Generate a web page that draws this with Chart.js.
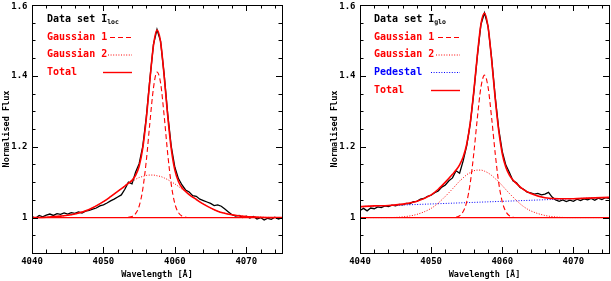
<!DOCTYPE html>
<html><head><meta charset="utf-8">
<script src="https://cdn.jsdelivr.net/npm/chart.js@4/dist/chart.umd.min.js"></script>
<style>
html,body{margin:0;padding:0;background:#fff;}
#wrap{position:relative;width:611px;height:281px;overflow:hidden;}
canvas{position:absolute;top:0;}
</style></head><body>
<div id="wrap"><canvas id="c1" width="305" height="281" style="left:0"></canvas><canvas id="c2" width="306" height="281" style="left:305px"></canvas></div>
<script>
// ---- axis ticks ----
const xMajor = [4040, 4050, 4060, 4070];
const xLabels = ['4040', '4050', '4060', '4070'];
const yMajor = [1, 1.2, 1.4, 1.6];
const yLabels = ['1', '1.2', '1.4', '1.6'];
const xTitle = 'Wavelength [Å]';
const yTitle = 'Normalised Flux';

// ---- shared model wavelength grid ----
const modelWl = [4040,4042,4044,4046,4048,4050,4051,4052,4053,4053.5,4054,4054.5,4055,4055.5,4056,4056.5,4057,4057.5,4058,4058.5,4059,4059.5,4060,4060.5,4061,4061.5,4062,4063,4064,4066,4068,4070,4072,4075];
const contWl = [4040, 4075];
const contFlux = [1, 1];

// ---- left panel (I_loc) ----
const locGauss1 = [1,1,1,1,1,1,1,1,1,1.001,1.003,1.011,1.032,1.079,1.160,1.267,1.365,1.411,1.380,1.288,1.180,1.093,1.039,1.014,1.004,1.001,1,1,1,1,1,1,1,1];
const locGauss2 = [1.000,1.001,1.004,1.010,1.023,1.045,1.059,1.074,1.089,1.096,1.102,1.108,1.113,1.116,1.119,1.120,1.120,1.118,1.116,1.112,1.107,1.101,1.095,1.088,1.080,1.073,1.065,1.051,1.038,1.018,1.008,1.003,1.001,1.000];
const locTotal = [1.000,1.001,1.004,1.010,1.023,1.045,1.059,1.074,1.089,1.097,1.105,1.119,1.145,1.195,1.279,1.387,1.485,1.529,1.496,1.400,1.287,1.194,1.134,1.102,1.084,1.074,1.065,1.051,1.038,1.018,1.008,1.003,1.001,1.000];

const dataWl = [4040,4040.5,4041,4041.5,4042,4042.5,4043,4043.5,4044,4044.5,4045,4045.5,4046,4046.5,4047,4047.5,4048,4048.5,4049,4049.5,4050,4050.5,4051,4051.5,4052,4052.5,4053,4053.5,4054,4054.5,4055,4055.5,4056,4056.5,4057,4057.5,4058,4058.5,4059,4059.5,4060,4060.5,4061,4061.5,4062,4062.5,4063,4063.5,4064,4064.5,4065,4065.5,4066,4066.5,4067,4067.5,4068,4068.5,4069,4069.5,4070,4070.5,4071,4071.5,4072,4072.5,4073,4073.5,4074,4074.5,4075];
const locData = [1.003,0.998,1.006,1.002,1.007,1.010,1.006,1.011,1.009,1.013,1.010,1.014,1.012,1.016,1.013,1.018,1.020,1.024,1.027,1.033,1.036,1.041,1.047,1.052,1.058,1.064,1.080,1.100,1.095,1.128,1.152,1.200,1.283,1.390,1.488,1.531,1.498,1.404,1.292,1.200,1.142,1.110,1.092,1.078,1.072,1.062,1.060,1.052,1.048,1.044,1.040,1.034,1.036,1.032,1.024,1.016,1.008,1.004,1.006,1.000,1.004,0.999,1.003,0.996,1.000,0.993,0.998,0.995,1.001,0.996,0.999];

// ---- right panel (I_glo) ----
const gloGauss1 = [1,1,1,1,1,1,1,1,1,1.001,1.005,1.017,1.044,1.098,1.182,1.282,1.368,1.402,1.368,1.282,1.182,1.098,1.044,1.017,1.005,1.001,1,1,1,1,1,1,1,1];
const gloGauss2 = [1.000,1.000,1.000,1.002,1.009,1.026,1.041,1.060,1.081,1.092,1.103,1.112,1.121,1.127,1.132,1.134,1.134,1.131,1.126,1.119,1.110,1.101,1.090,1.079,1.068,1.058,1.048,1.031,1.019,1.006,1.001,1.000,1.000,1.000];
const gloPedWl = [4040, 4075];
const gloPedestal = [1.031, 1.057];
const gloTotal = [1.031,1.033,1.034,1.038,1.046,1.064,1.080,1.100,1.122,1.134,1.149,1.171,1.207,1.268,1.357,1.459,1.546,1.577,1.538,1.446,1.337,1.245,1.180,1.142,1.120,1.106,1.096,1.079,1.068,1.056,1.053,1.053,1.055,1.057];
const gloData = [1.020,1.026,1.019,1.027,1.025,1.030,1.028,1.033,1.031,1.035,1.033,1.037,1.036,1.040,1.039,1.045,1.046,1.052,1.054,1.060,1.063,1.070,1.075,1.086,1.092,1.104,1.112,1.132,1.125,1.160,1.203,1.265,1.354,1.457,1.545,1.578,1.540,1.450,1.342,1.250,1.186,1.148,1.127,1.104,1.098,1.085,1.080,1.072,1.070,1.066,1.068,1.064,1.066,1.071,1.058,1.050,1.046,1.050,1.045,1.049,1.046,1.052,1.048,1.053,1.050,1.054,1.049,1.055,1.051,1.056,1.054];

const RED = 'rgb(255,0,0)', BLUE = 'rgb(0,0,255)', BLACK = 'rgb(0,0,0)';
const FONT = '"DejaVu Sans Mono", monospace';
const pts = (xs, ys) => xs.map((x, i) => ({x: x, y: ys[i]}));

const framePlugin = {
  id: 'frame',
  afterDraw(chart) {
    const o = chart.config._config.frameOpts;
    const ctx = chart.ctx, a = chart.chartArea;
    const xs = chart.scales.x, ys = chart.scales.y;
    ctx.save();
    ctx.setLineDash([]);
    ctx.strokeStyle = BLACK; ctx.lineWidth = 1;
    ctx.strokeRect(Math.round(a.left) + 0.5, Math.round(a.top) + 0.5, Math.round(a.right - a.left), Math.round(a.bottom - a.top));
    ctx.beginPath();
    for (let v = xs.min; v <= xs.max + 1e-9; v += 2) {
      const px = Math.round(xs.getPixelForValue(v)) + 0.5;
      const L = xMajor.includes(v) ? 6 : 3.5;
      ctx.moveTo(px, a.bottom); ctx.lineTo(px, a.bottom - L);
      ctx.moveTo(px, a.top); ctx.lineTo(px, a.top + L);
    }
    for (let k = 0; k <= 14; k++) {
      const v = Math.round((0.9 + k * 0.05) * 100) / 100;
      const py = Math.round(ys.getPixelForValue(v)) + 0.5;
      const L = yMajor.includes(v) ? 6 : 3.5;
      ctx.moveTo(a.left, py); ctx.lineTo(a.left + L, py);
      ctx.moveTo(a.right, py); ctx.lineTo(a.right - L, py);
    }
    ctx.stroke();
    ctx.fillStyle = BLACK;
    ctx.font = 'bold 9px ' + FONT;
    ctx.textAlign = 'center'; ctx.textBaseline = 'middle';
    xMajor.forEach((v, i) => ctx.fillText(xLabels[i], xs.getPixelForValue(v), a.bottom + 8.5));
    ctx.textAlign = 'right';
    yMajor.forEach((v, i) => ctx.fillText(yLabels[i], a.left - 4.5, ys.getPixelForValue(v) + (i === 3 ? 2 : 0)));
    ctx.font = 'bold 8.5px ' + FONT;
    ctx.textAlign = 'center';
    ctx.fillText(xTitle, (a.left + a.right) / 2, a.bottom + 22);
    ctx.save();
    ctx.translate(a.left - 25, (a.top + a.bottom) / 2);
    ctx.rotate(-Math.PI / 2);
    ctx.fillText(yTitle, 0, 0);
    ctx.restore();
    ctx.textAlign = 'left';
    o.items.forEach(it => {
      ctx.font = 'bold 10px ' + FONT;
      ctx.fillStyle = it.color;
      ctx.fillText(it.text, o.x, it.y);
      if (it.sub) {
        const w = ctx.measureText(it.text).width;
        ctx.font = 'bold 6.5px ' + FONT;
        ctx.fillText(it.sub, o.x + w, it.y + 3);
      }
      if (it.line) {
        ctx.beginPath();
        ctx.strokeStyle = it.color;
        ctx.lineWidth = it.lw || 1;
        ctx.setLineDash(it.dash || []);
        ctx.moveTo(it.line[0], it.y + 0.5); ctx.lineTo(it.line[1], it.y + 0.5);
        ctx.stroke();
        ctx.setLineDash([]);
      }
    });
    ctx.restore();
  }
};

function makeChart(id, datasets, padLeft, padRight, legend) {
  return new Chart(document.getElementById(id), {
    type: 'line',
    data: { datasets: datasets },
    frameOpts: legend,
    options: {
      responsive: false, animation: false, devicePixelRatio: 1,
      layout: { padding: { left: padLeft, right: padRight, top: 5, bottom: 28 } },
      plugins: { legend: { display: false }, tooltip: { enabled: false } },
      elements: { point: { radius: 0 } },
      scales: {
        x: { type: 'linear', min: 4040, max: 4075, display: false },
        y: { type: 'linear', min: 0.9, max: 1.6, display: false }
      }
    },
    plugins: [framePlugin]
  });
}

const ds = (xs, ys, color, width, dash, order, mono) => ({
  data: pts(xs, ys), borderColor: color, backgroundColor: color, borderWidth: width, borderDash: dash || [],
  order: order, cubicInterpolationMode: mono ? 'monotone' : 'default', tension: 0, fill: false
});

makeChart('c1', [
  ds(modelWl, locTotal, RED, 1.6, null, 1, true),
  ds(dataWl, locData, BLACK, 1.3, null, 5, false),
  ds(contWl, contFlux, RED, 1.2, null, 4, false),
  ds(modelWl, locGauss1, RED, 1.1, [5, 3], 2, true),
  ds(modelWl, locGauss2, RED, 1, [1, 1.6], 3, true)
], 32, 23, {
  x: 47,
  items: [
    { text: 'Data set I', sub: 'loc', color: BLACK, y: 19 },
    { text: 'Gaussian 1', color: RED, y: 37, line: [110, 132], dash: [5, 3] },
    { text: 'Gaussian 2', color: RED, y: 54.5, line: [108, 132], dash: [1, 1.6] },
    { text: 'Total', color: RED, y: 72, line: [103, 132], lw: 1.4 }
  ]
});

makeChart('c2', [
  ds(modelWl, gloTotal, RED, 1.6, null, 1, true),
  ds(dataWl, gloData, BLACK, 1.3, null, 6, false),
  ds(contWl, contFlux, RED, 1.2, null, 5, false),
  ds(modelWl, gloGauss1, RED, 1.1, [5, 3], 2, true),
  ds(modelWl, gloGauss2, RED, 1, [1, 1.6], 3, true),
  ds(gloPedWl, gloPedestal, BLUE, 1, [1, 1.6], 4, false)
], 55, 2, {
  x: 69,
  items: [
    { text: 'Data set I', sub: 'glo', color: BLACK, y: 19 },
    { text: 'Gaussian 1', color: RED, y: 37, line: [133, 155], dash: [5, 3] },
    { text: 'Gaussian 2', color: RED, y: 54.5, line: [131, 155], dash: [1, 1.6] },
    { text: 'Pedestal', color: BLUE, y: 72, line: [126, 155], dash: [1, 1.6] },
    { text: 'Total', color: RED, y: 90, line: [126, 155], lw: 1.4 }
  ]
});
</script>
</body></html>
